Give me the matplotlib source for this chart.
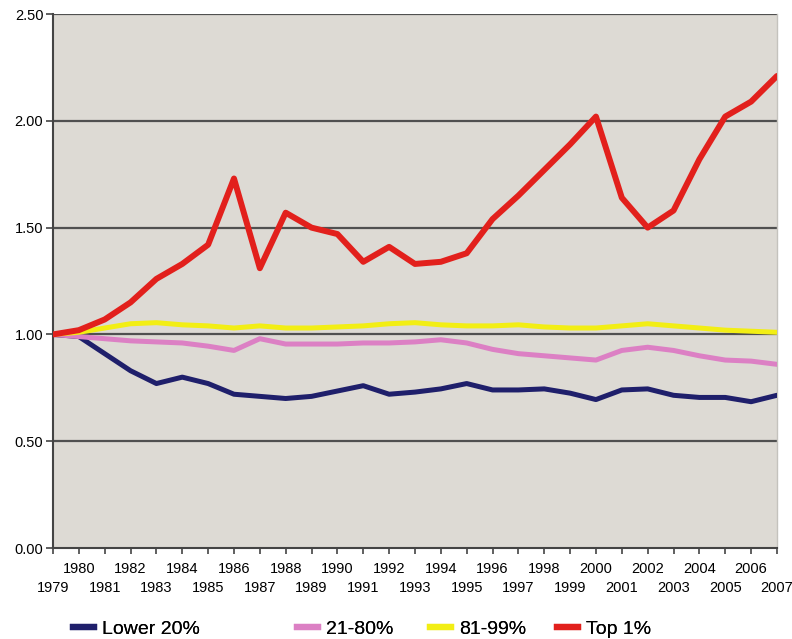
import matplotlib.pyplot as plt
from matplotlib.lines import Line2D

years = list(range(1979, 2008))

lower20 = [1.00, 0.99, 0.91, 0.83, 0.77, 0.80, 0.77, 0.72, 0.71, 0.70, 0.71, 0.735,
           0.76, 0.72, 0.73, 0.745, 0.77, 0.74, 0.74, 0.745, 0.725, 0.695, 0.74,
           0.745, 0.715, 0.705, 0.705, 0.685, 0.715]
mid21_80 = [1.00, 0.99, 0.98, 0.97, 0.965, 0.96, 0.945, 0.925, 0.98, 0.955, 0.955,
            0.955, 0.96, 0.96, 0.965, 0.975, 0.96, 0.93, 0.91, 0.90, 0.89, 0.88,
            0.925, 0.94, 0.925, 0.90, 0.88, 0.875, 0.86]
upper81_99 = [1.00, 1.01, 1.03, 1.05, 1.055, 1.045, 1.04, 1.03, 1.04, 1.03, 1.03,
              1.035, 1.04, 1.05, 1.055, 1.045, 1.04, 1.04, 1.045, 1.035, 1.03, 1.03,
              1.04, 1.05, 1.04, 1.03, 1.02, 1.015, 1.01]
top1 = [1.00, 1.02, 1.07, 1.15, 1.26, 1.33, 1.42, 1.73, 1.31, 1.57, 1.50, 1.47,
        1.34, 1.41, 1.33, 1.34, 1.38, 1.54, 1.65, 1.77, 1.89, 2.02, 1.64, 1.50,
        1.58, 1.82, 2.02, 2.09, 2.21]

labels = ['Lower 20%', '21-80%', '81-99%', 'Top 1%']
colors = ['#1f1f6b', '#dc80c4', '#f2ee14', '#e2201c']
widths = [3.6, 3.6, 3.6, 4.3]

plt.rcParams['font.family'] = ['Liberation Sans', 'DejaVu Sans']

fig = plt.figure(figsize=(7.92, 6.39), dpi=100)
ax = fig.add_axes([0.0669, 0.1424, 0.9141, 0.8356])
ax.set_facecolor('#dddad4')

for yv in [0.5, 1.0, 1.5, 2.0, 2.5]:
    ax.axhline(yv, color='#505050', lw=1.6, zorder=1)

series = [lower20, mid21_80, upper81_99, top1]
handles = []
for s, lab, c, w in zip(series, labels, colors, widths):
    ln, = ax.plot(years, s, color=c, lw=w, label=lab, zorder=3,
                  solid_joinstyle='round', solid_capstyle='round')
    handles.append(ln)

ax.set_xlim(1979, 2007)
ax.set_ylim(0, 2.5)
ax.set_yticks([0, 0.5, 1.0, 1.5, 2.0, 2.5])
ax.set_yticklabels(['%.2f' % v for v in [0, 0.5, 1.0, 1.5, 2.0, 2.5]], fontsize=10.5)

odd = [y for y in years if y % 2 == 1]
even = [y for y in years if y % 2 == 0]
ax.set_xticks(odd)
ax.set_xticklabels([str(y) for y in odd], fontsize=10.5)
ax.set_xticks(even, minor=True)
ax.set_xticklabels([str(y) for y in even], minor=True, fontsize=10.5)
ax.tick_params(axis='x', which='major', length=4, width=1.2, color='#444444', pad=20)
ax.tick_params(axis='x', which='minor', length=4, width=1.2, color='#444444', pad=6)
ax.tick_params(axis='y', length=5, width=1.2, color='#444444', pad=2)

ax.spines['top'].set_visible(False)
ax.spines['right'].set_color('#c4c2bd')
ax.spines['right'].set_linewidth(1.0)
ax.spines['left'].set_color('#444444')
ax.spines['left'].set_linewidth(1.5)
ax.spines['bottom'].set_color('#444444')
ax.spines['bottom'].set_linewidth(1.5)

# legend entries placed individually along the bottom
leg_x = [73, 297, 430, 557]
for h, lab, c, x in zip(handles, labels, colors, leg_x):
    proxy = Line2D([], [], color=c, lw=4.5)
    lg = fig.legend(handles=[proxy], labels=[lab], loc='center left',
                    bbox_to_anchor=(x / 792, 1 - 629 / 639), frameon=False,
                    fontsize=14, handlelength=1.1, handletextpad=0.4,
                    borderaxespad=0, borderpad=0)
    fig.add_artist(lg)

fig.savefig('out.png', dpi=100, facecolor='white')
